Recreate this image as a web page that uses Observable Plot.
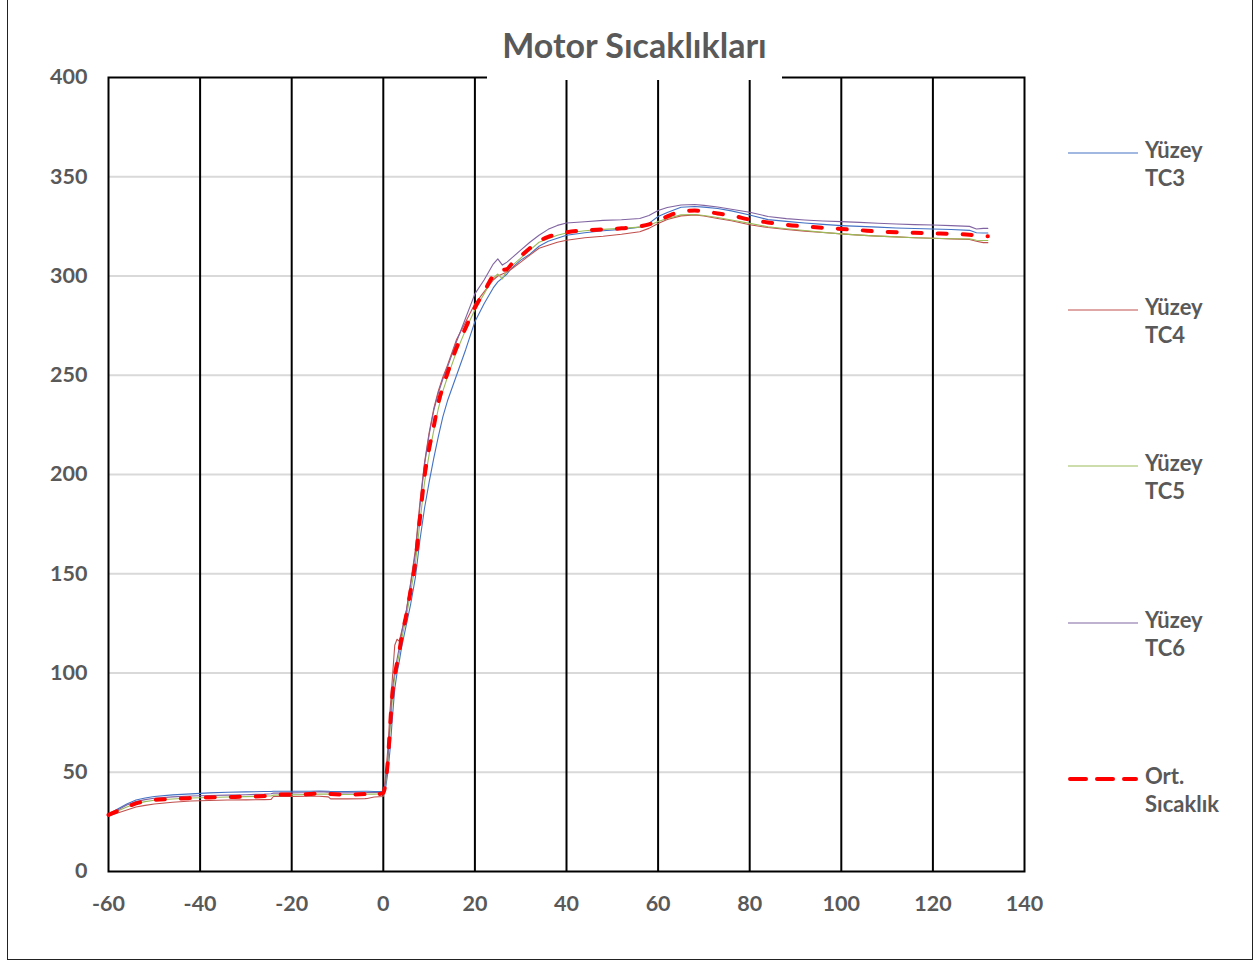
<!DOCTYPE html>
<html><head><meta charset="utf-8">
<script src="https://cdn.jsdelivr.net/npm/d3@7"></script>
<script src="https://cdn.jsdelivr.net/npm/@observablehq/plot@0.6"></script>
<style>
body{margin:0;background:#fff;font-family:Lato,"Open Sans",sans-serif;}
#wrap{position:relative;width:1259px;height:962px;overflow:hidden;background:#fff;}
#chart{position:absolute;left:0;top:0;}
#border{position:absolute;left:7px;top:-2px;width:1246px;height:962px;border:1px solid #222;box-sizing:border-box;pointer-events:none;}
#title{position:absolute;left:487px;top:20px;width:295px;height:60px;background:#fff;color:#595959;font-weight:700;font-size:34px;text-align:center;line-height:50px;}
.leg{position:absolute;left:1066px;display:flex;align-items:flex-start;}
.leg svg{display:block;margin-top:0;}
.leg .lab{color:#595959;font-weight:700;font-size:22px;line-height:28px;margin-left:5px;margin-top:-14px;}
</style>
</head><body>
<div id="wrap">
  <div id="chart"></div>
  <div id="title">Motor Sıcaklıkları</div>
  <div id="legend"></div>
  <div id="border"></div>
</div>
<script>
const time = [-60,-58,-56,-54,-52,-50,-46,-42,-38,-34,-30,-26,-24.5,-24,-20,-16,-14,-12,-11.5,-8,-4,-3.5,-2,0,0.5,1,1.5,2,2.5,3,3.5,4,5,6,7,8,9,10,11,12,13,14,16,18,20,22,24,25,26,27,28,30,32,34,36,38,40,44,48,52,56,58,60,62,65,68,70,73,76,80,84,88,92,96,100,104,108,112,116,120,124,128,129.5,131,132];

const tc3 = [29,31.5,34,36,37,37.8,38.6,39.1,39.6,39.9,40.1,40.3,40.3,40.4,40.4,40.4,40.5,40.4,40.3,40.3,40.4,40.4,40.3,40.3,42,50,62,78,92,100,106,113,124,135,148,167,183,196,208,219,229,237,250,263,277,286,294,297,299,301,304,308,311,315,317.5,319,320.5,321.8,322.8,323.5,324.6,326.5,330,332,334.6,335,334.7,334,332.8,330.7,328.4,327.5,326.7,326,325.4,325,324.6,324.2,323.9,323.7,323.4,323,321.8,321.7,321.7];

const tc4 = [28,29.5,31,32.5,33.3,34,34.9,35.5,35.8,36,36.1,36.2,36.3,37.8,37.8,37.9,37.9,37.6,36.6,36.6,36.7,36.8,37.5,37.8,48,62,82,98,114,117,116,121,131,146,162,186,206,221,233,242,249,255,268,277,286,292,298,300,301,302,303.5,307,310.5,314,315.5,317,318,319.3,320,321,322.3,324,326.5,328.5,330.3,330.8,330.2,329,327.8,325.8,324.4,323.4,322.6,321.9,321.2,320.6,320.1,319.7,319.3,319,318.7,318.4,317.5,316.8,316.8];

const tc5 = [28.5,30.5,32.5,34.2,35.2,35.9,36.5,37,37.3,37.5,37.7,38,38,38.5,38.6,38.8,39,39,38.8,38.8,38.9,39,39,39.2,44,55,72,88,98,104,110,117,128,141,155,176,196,210,222,233,242,249,262,273,283,291,299,301,298.5,303,305,309,313,317,318.8,320.5,321.7,322.8,323.5,324,324.6,325.5,327.5,329,330.8,331,330.5,329.5,328.2,326.5,324.8,323.8,322.9,322,321.2,320.6,320.1,319.7,319.3,319,318.8,318.7,318,317.9,317.9];

const tc6 = [28.5,31,33.5,35.2,36.2,36.9,37.6,38,38.3,38.5,38.7,39,39.2,39.5,39.6,39.8,40.2,40,39.6,39.6,39.7,39.8,39.8,39.8,45,57,76,92,101,107,113,120,131,145,160,184,205,220,232,241,248,254,267,279,291,298,306,308.6,305.5,307,309,313,317,320.5,323.5,325.5,326.7,327.3,328,328.3,329,330.5,333,334.5,335.8,336,335.6,334.8,333.6,332.1,330,328.9,328.2,327.7,327.4,327,326.6,326.2,325.9,325.7,325.4,325,323.7,324,324];

const ortalama = [28.5,30.5,32.5,34.3,35.3,36,36.6,37,37.3,37.5,37.7,38,38.3,38.7,38.8,39,39.3,39.3,39,38.8,39,39.8,38.8,39.5,45,56,74,90,99,105,111,118,129,142,156,178,199,213,224,236,244,251,264,274,284,292,300,302,303,303.5,306,310,314,317.5,319.7,321,322,323,323.5,324,325,326,328,330,332.4,333,332.6,331.5,330.5,328.4,327,325.8,325,324.3,323.7,323.1,322.4,322.1,321.8,321.5,321.2,320.8,320.3,320,320];

const seriesNames = ["Yüzey TC3","Yüzey TC4","Yüzey TC5","Yüzey TC6","Ort. Sıcaklık"];
const seriesColors = ["#4472C4","#C0504D","#9BBB59","#8064A2","#FF0000"];
const xTicks = [-60,-40,-20,0,20,40,60,80,100,120,140];
const yTicks = [0,50,100,150,200,250,300,350,400];

const allSeries = [tc3, tc4, tc5, tc6, ortalama];
const rows = allSeries.map((vals) => time.map((t, i) => ({t, v: vals[i]})));

const marks = [
  Plot.ruleY(yTicks.filter(d => d > 0 && d < 400), {stroke: "#d9d9d9", strokeWidth: 2}),
  Plot.ruleX(xTicks.filter(d => d > -60 && d < 140), {stroke: "#000", strokeWidth: 2}),
  Plot.frame({stroke: "#000", strokeWidth: 2}),
  Plot.axisX({ticks: xTicks, tickFormat: d => String(d), tickSize: 0, tickPadding: 24, label: null, fontSize: 21.5, fontWeight: "bold", fill: "#595959"}),
  Plot.axisY({ticks: yTicks, tickFormat: d => String(d), tickSize: 0, tickPadding: 21, label: null, fontSize: 21.5, fontWeight: "bold", fill: "#595959"})
];
for (let k = 0; k < 4; k++) {
  marks.push(Plot.line(rows[k], {x: "t", y: "v", stroke: seriesColors[k], strokeWidth: 1.1}));
}
marks.push(Plot.line(rows[4], {x: "t", y: "v", stroke: seriesColors[4], strokeWidth: 4, strokeDasharray: "9,16", strokeLinecap: "round", curve: "monotone-x"}));

const chart = Plot.plot({
  width: 1259, height: 962,
  marginLeft: 108, marginRight: 235, marginTop: 77, marginBottom: 91,
  x: {domain: [-60, 140]},
  y: {domain: [0, 400]},
  style: {fontFamily: "Lato, 'Open Sans', sans-serif", fontSize: "21.5px", fontWeight: "bold", color: "#595959", background: "transparent"},
  marks
});
document.getElementById("chart").appendChild(chart);

// legend
const legendY = [153, 310, 466, 623, 779];
const leg = document.getElementById("legend");
seriesNames.forEach((name, k) => {
  const d = document.createElement("div");
  d.className = "leg";
  d.style.top = (legendY[k] - 3) + "px";
  const dashed = k === 4;
  const parts = name.split(" ");
  d.innerHTML = `<svg width="74" height="6"><line x1="${dashed ? 4 : 2}" y1="3" x2="${dashed ? 70 : 72}" y2="3" stroke="${seriesColors[k]}" stroke-width="${dashed ? 4 : 1.2}" ${dashed ? 'stroke-dasharray="16,11" stroke-linecap="round"' : ''}/></svg><div class="lab">${parts[0]}<br>${parts.slice(1).join(" ")}</div>`;
  leg.appendChild(d);
});
</script>
</body></html>
